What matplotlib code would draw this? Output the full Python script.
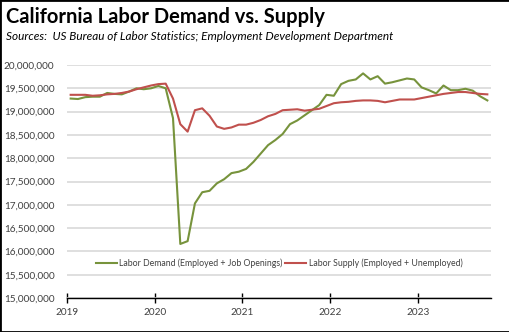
import matplotlib
matplotlib.use("Agg")
import matplotlib.pyplot as plt
from matplotlib.ticker import FuncFormatter
from matplotlib.patches import Rectangle

title = "California Labor Demand vs. Supply"
subtitle = "Sources:  US Bureau of Labor Statistics; Employment Development Department"
demand_label = "Labor Demand (Employed + Job Openings)"
supply_label = "Labor Supply (Employed + Unemployed)"
start_year = 2019
year_ticks = [2019, 2020, 2021, 2022, 2023]

# monthly values, millions, Jan 2019 .. Oct 2023
labor_demand = [19.28, 19.27, 19.31, 19.32, 19.32, 19.40, 19.38, 19.37, 19.43, 19.50,
                19.48, 19.50, 19.55, 19.50, 18.86, 16.16, 16.22, 17.03, 17.27, 17.30,
                17.46, 17.55, 17.68, 17.71, 17.77, 17.92, 18.10, 18.28, 18.39, 18.52,
                18.73, 18.81, 18.92, 19.03, 19.14, 19.36, 19.34, 19.59, 19.66, 19.69,
                19.82, 19.69, 19.76, 19.60, 19.63, 19.67, 19.71, 19.69, 19.52, 19.46,
                19.39, 19.56, 19.46, 19.46, 19.49, 19.45, 19.33, 19.24]
labor_supply = [19.36, 19.36, 19.36, 19.34, 19.35, 19.37, 19.38, 19.40, 19.43, 19.48,
                19.52, 19.56, 19.59, 19.60, 19.28, 18.73, 18.57, 19.03, 19.07, 18.91,
                18.68, 18.63, 18.66, 18.72, 18.72, 18.76, 18.82, 18.90, 18.95, 19.03,
                19.04, 19.05, 19.02, 19.04, 19.06, 19.12, 19.18, 19.20, 19.21, 19.23,
                19.24, 19.24, 19.23, 19.20, 19.23, 19.26, 19.26, 19.26, 19.29, 19.32,
                19.35, 19.38, 19.40, 19.42, 19.42, 19.40, 19.38, 19.37]

n = len(labor_demand)
x = [start_year + (i + 0.5) / 12 for i in range(n)]
dem = [v * 1e6 for v in labor_demand]
sup = [v * 1e6 for v in labor_supply]

plt.rcParams['font.family'] = ['Lato', 'DejaVu Sans']

fig = plt.figure(figsize=(5.10, 3.32), dpi=100)
ax = fig.add_axes([67/510, 1 - 298/332, (491 - 67)/510, (298 - 65)/332])

green = "#77933C"
red = "#C0504D"
ax.plot(x, dem, color=green, lw=1.5, label=demand_label, zorder=3)
ax.plot(x, sup, color=red, lw=1.5, label=supply_label, zorder=3)

ax.set_ylim(15e6, 20e6)
ax.set_xlim(start_year, start_year + n / 12)
ax.set_yticks([15e6 + k * 5e5 for k in range(11)])
ax.yaxis.set_major_formatter(FuncFormatter(lambda v, p: f"{int(round(v)):,}"))
ax.grid(axis='y', color='#d9d9d9', lw=1.2, zorder=0)
ax.set_xticks(year_ticks)
ax.set_xticklabels([str(y) for y in year_ticks])
for s in ['top', 'right', 'left']:
    ax.spines[s].set_visible(False)
ax.spines['bottom'].set_color('black')
ax.spines['bottom'].set_linewidth(1.0)
ax.tick_params(axis='y', length=0, labelsize=7.2, colors='#404040', pad=9)
ax.tick_params(axis='x', direction='inout', length=7, width=1.0, labelsize=7.2,
               colors='black', labelcolor='#404040', pad=4)

leg = ax.legend(loc='center', bbox_to_anchor=(0.5, (298 - 263) / 233), ncol=2,
                frameon=False, fontsize=6.3, handlelength=2.4, handletextpad=0.3,
                columnspacing=0.3, labelcolor='#404040')

fig.text(6/510, 1 - 17/332, title, fontsize=14.5, fontweight='bold', va='center', ha='left')
fig.text(6/510, 1 - 37/332, subtitle, fontsize=8.5, style='italic', va='center', ha='left')

fig.patches.append(Rectangle((0, 0), 1, 1, transform=fig.transFigure, fill=False,
                             edgecolor='black', lw=2.0))

fig.savefig("out.png", dpi=100)
